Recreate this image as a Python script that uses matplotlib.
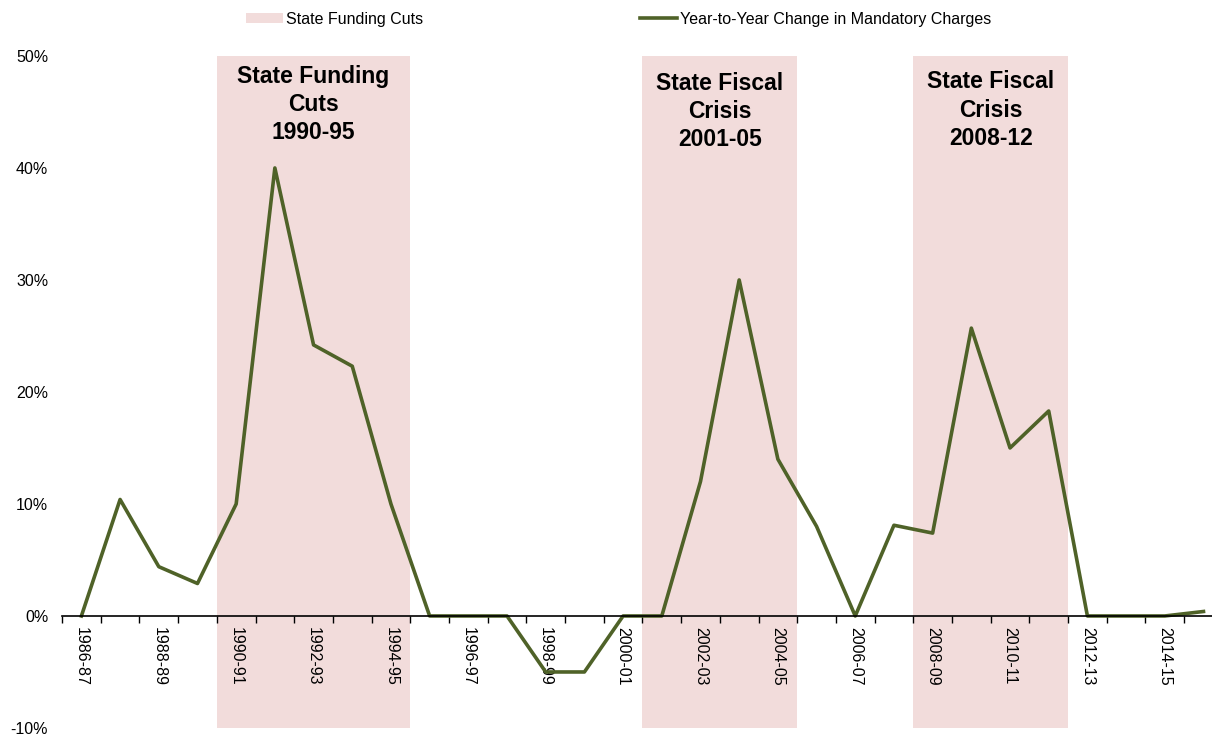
import numpy as np
import matplotlib
matplotlib.use("Agg")
import matplotlib.pyplot as plt
from matplotlib.ticker import FixedLocator, FuncFormatter

plt.rcParams['font.family'] = ['Liberation Sans', 'DejaVu Sans']
plt.rcParams['axes.unicode_minus'] = False

years = ["1986-87", "1987-88", "1988-89", "1989-90", "1990-91", "1991-92",
         "1992-93", "1993-94", "1994-95", "1995-96", "1996-97", "1997-98",
         "1998-99", "1999-00", "2000-01", "2001-02", "2002-03", "2003-04",
         "2004-05", "2005-06", "2006-07", "2007-08", "2008-09", "2009-10",
         "2010-11", "2011-12", "2012-13", "2013-14", "2014-15", "2015-16"]
change = [0, 10.4, 4.4, 2.9, 10.0, 40.0, 24.2, 22.3, 10.0, 0, 0, 0,
          -5.0, -5.0, 0, 0, 12.0, 30.0, 14.0, 8.0, 0, 8.1, 7.4, 25.7,
          15.0, 18.3, 0, 0, 0, 0.4]
# years inside the shaded periods
cut_years = ["1990-91", "1991-92", "1992-93", "1993-94", "1994-95",
             "2001-02", "2002-03", "2003-04", "2004-05",
             "2008-09", "2009-10", "2010-11", "2011-12"]
period_labels = ["State Funding\nCuts\n1990-95",
                 "State Fiscal\nCrisis\n2001-05",
                 "State Fiscal\nCrisis\n2008-12"]
period_first = ["1990-91", "2001-02", "2008-09"]
period_last = ["1994-95", "2004-05", "2011-12"]

line_color = '#4F6228'
band_color = '#F2DCDB'

x = np.arange(len(years))
fig = plt.figure(figsize=(12.12, 7.36), dpi=100)
ax = fig.add_axes([0.0512, 0.0109, 0.9488, 0.9131])

# spine position first: it resets the tick objects
for s in ['top', 'right', 'left']:
    ax.spines[s].set_visible(False)
ax.spines['bottom'].set_position(('data', 0))
ax.spines['bottom'].set_linewidth(1.2)
ax.spines['bottom'].set_zorder(5)

band_x = [years.index(y) for y in cut_years]
ax.bar(band_x, [60] * len(band_x), bottom=-10, width=1.0, color=band_color,
       label='State Funding Cuts', zorder=1)
ax.plot(x, change, color=line_color, lw=2.6, zorder=3,
        label='Year-to-Year Change in Mandatory Charges')

for lab, a, b, ty in zip(period_labels, period_first, period_last, [49.2, 48.6, 48.7]):
    xc = (years.index(a) + years.index(b)) / 2
    ax.text(xc, ty, lab, ha='center', va='top', fontsize=16.5, fontweight='bold',
            linespacing=1.28, zorder=4)

ax.set_xlim(-0.5, 29.22)
ax.set_ylim(-10, 50)
ax.set_yticks(np.arange(-10, 51, 10))
ax.yaxis.set_major_formatter(FuncFormatter(lambda v, p: '%d%%' % v))
ax.tick_params(axis='y', length=0, labelsize=11.5, pad=10)

ax.set_xticks(x[::2])
ax.set_xticklabels(years[::2])
ax.xaxis.set_minor_locator(FixedLocator(np.arange(-0.5, 30, 1)))
ax.tick_params(axis='x', which='major', length=0, pad=8, labelsize=11.5,
               labelrotation=270)
ax.tick_params(axis='x', which='minor', length=5, width=1, direction='out')

h, l = ax.get_legend_handles_labels()
fig.legend(h[::-1], l[::-1], loc='center', bbox_to_anchor=(0.5105, 0.974), ncol=2,
           frameon=False, fontsize=11.5, handlelength=2.3, handleheight=0.6,
           handletextpad=0.2, columnspacing=13.6)

fig.savefig('out.png', dpi=100)
